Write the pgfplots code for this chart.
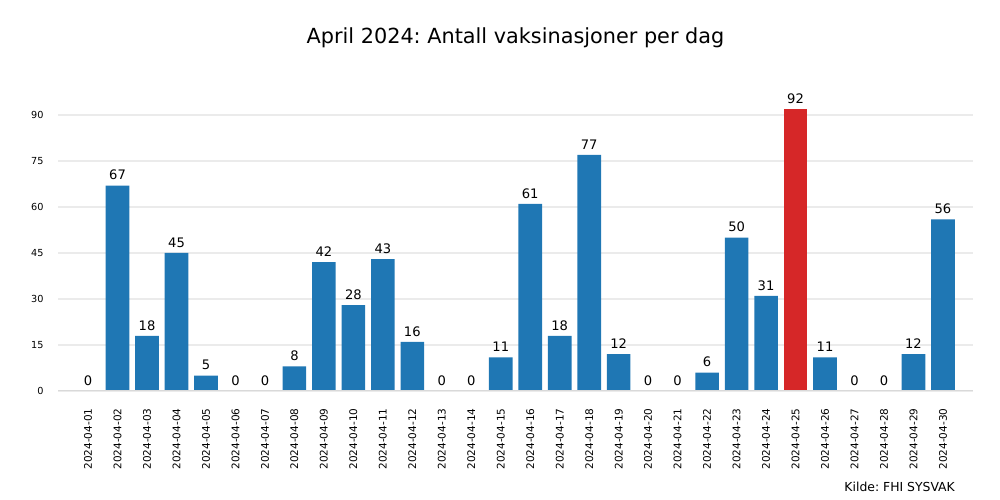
\documentclass[border=0pt]{standalone}
\usepackage{pgfplots}
\pgfplotsset{compat=1.18}
\usepackage{fontspec}
\setmainfont{DejaVu Sans}
\definecolor{tabblue}{HTML}{1F77B4}
\definecolor{tabred}{HTML}{D62728}
\frenchspacing
\begin{document}
\begin{tikzpicture}[x=1pt,y=1pt]
\path[use as bounding box] (0,0) rectangle (1000,500);
\begin{axis}[
  at={(58pt,109pt)}, anchor=south west,
  scale only axis, width=915pt, height=297.5pt,
  xmin=-1.02, xmax=30.02, ymin=0, ymax=97,
  ybar, bar width=23.6pt, bar shift=0pt,
  axis line style={draw=none},
  major tick length=0pt,
  ytick={0,15,30,45,60,75,90},
  ymajorgrids, grid style={draw=black!8, line width=1.5pt},
  xtick={0,...,29},
  xticklabels={2024-04-01,2024-04-02,2024-04-03,2024-04-04,2024-04-05,2024-04-06,2024-04-07,2024-04-08,2024-04-09,2024-04-10,2024-04-11,2024-04-12,2024-04-13,2024-04-14,2024-04-15,2024-04-16,2024-04-17,2024-04-18,2024-04-19,2024-04-20,2024-04-21,2024-04-22,2024-04-23,2024-04-24,2024-04-25,2024-04-26,2024-04-27,2024-04-28,2024-04-29,2024-04-30},
  x tick label style={rotate=90, anchor=east, font=\fontsize{10.5}{12}\selectfont, xshift=-14pt},
  y tick label style={font=\fontsize{9.7}{11}\selectfont, xshift=-11pt},
  /pgf/number format/assume math mode=true,
  nodes near coords,
  every node near coord/.append style={font=\fontsize{13.1}{15}\selectfont, text=black, yshift=2pt},
]
\addplot[fill=tabblue, draw=none] coordinates {
(0,0) (1,67) (2,18) (3,45) (4,5) (5,0) (6,0) (7,8) (8,42) (9,28) (10,43) (11,16) (12,0) (13,0) (14,11) (15,61) (16,18) (17,77) (18,12) (19,0) (20,0) (21,6) (22,50) (23,31) (25,11) (26,0) (27,0) (28,12) (29,56)
};
\addplot[fill=tabred, draw=none] coordinates {(24,92)};
\draw[black!15, line width=2.5pt] (rel axis cs:0,0) -- (rel axis cs:1,0);
\end{axis}
\node[anchor=base, font=\fontsize{20.8}{24}\selectfont] at (515.5,456) {April 2024: Antall vaksinasjoner per dag};
\node[anchor=base east, inner sep=0pt, font=\fontsize{12.4}{14}\selectfont] at (955,9) {Kilde: FHI SYSVAK};
\end{tikzpicture}
\end{document}
